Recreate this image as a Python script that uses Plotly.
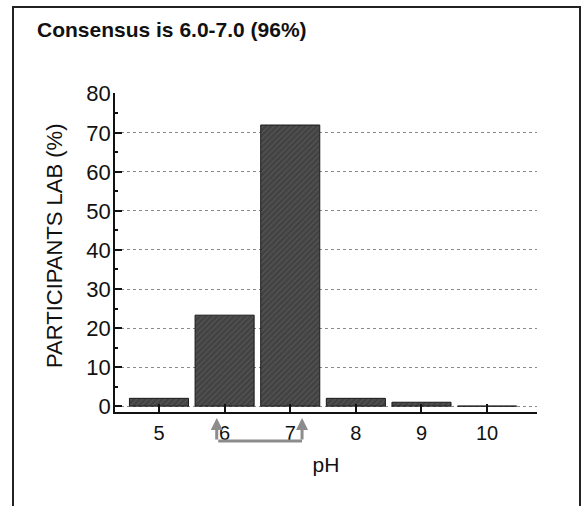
import plotly.graph_objects as go

# Data
ph_values = [5, 6, 7, 8, 9, 10]
participants_pct = [2.0, 23.3, 72.0, 2.0, 1.0, 0.0]
y_ticks = [0, 10, 20, 30, 40, 50, 60, 70, 80]
title_text = "Consensus is 6.0-7.0 (96%)"
y_title = "PARTICIPANTS LAB (%)"
x_title = "pH"
consensus_low, consensus_high = 6, 7

FONT = "Liberation Sans, Arial, sans-serif"

fig = go.Figure()
fig.add_trace(go.Bar(
    x=ph_values, y=participants_pct, width=0.9,
    marker=dict(color="#424242", line=dict(color="#1a1a1a", width=1),
                pattern=dict(shape="/", fgcolor="#6e6e6e", size=4, solidity=0.25)),
    showlegend=False,
))

W, H = 584, 506
L, R, T, B = 115, 47, 93, 94
pw, ph = W - L - R, H - T - B

fig.update_layout(
    width=W, height=H,
    margin=dict(l=L, r=R, t=T, b=B),
    paper_bgcolor="white", plot_bgcolor="white",
    font=dict(family=FONT, color="#111"),
    title=dict(text="<b>" + title_text + "</b>", x=37 / W, xanchor="left",
               y=1 - 30 / H, yanchor="middle", font=dict(size=21, color="#111")),
    bargap=0.1,
)

fig.update_xaxes(
    range=[4.33, 10.76], tickmode="array", tickvals=ph_values,
    ticktext=[str(v) for v in ph_values],
    ticks="inside", ticklen=8, tickwidth=1.5, tickcolor="#111",
    showline=True, linecolor="#111", linewidth=1.5,
    showgrid=False, zeroline=False,
    tickfont=dict(size=20, color="#111"), ticklabelstandoff=2,
    title=dict(text=x_title, font=dict(size=21, color="#111"), standoff=15),
)
fig.update_yaxes(
    range=[-1.5, 80.2], tickmode="array", tickvals=y_ticks,
    ticks="inside", ticklen=7, tickwidth=1.5, tickcolor="#111",
    minor=dict(dtick=5, ticks="inside", ticklen=3, tickcolor="#111", showgrid=False),
    showline=True, linecolor="#111", linewidth=1.5,
    showgrid=True, gridcolor="#8a8a8a", griddash="dot", gridwidth=1,
    zeroline=False,
    tickfont=dict(size=22, color="#111"), ticklabelstandoff=-2,
)

# Y-axis title placed as rotated text
fig.add_annotation(text=y_title, xref="paper", yref="paper",
                   x=(55 - L) / pw, y=(H - B - 246) / ph,
                   xanchor="center", yanchor="middle", textangle=-90,
                   showarrow=False, font=dict(size=22, color="#111"))

# Outer frame (bottom edge cut off like the reference)
fig.add_shape(type="rect", xref="paper", yref="paper",
              x0=(13 - L) / pw, x1=(580 - L) / pw,
              y0=-0.5, y1=(H - B - 7) / ph,
              line=dict(color="#222", width=2), fillcolor="rgba(0,0,0,0)")

# Consensus bracket under ticks 6 and 7
arrow_col = "#8c8c8c"
x_left = consensus_low - 0.12
x_right = consensus_high + 0.18
y_tip = -6 / ph
y_base = -29 / ph
for xv in (x_left, x_right):
    fig.add_annotation(x=xv, y=y_tip, xref="x", yref="paper", text="",
                       showarrow=True, ax=0, ay=23, axref="pixel", ayref="pixel",
                       arrowhead=2, arrowsize=0.8, arrowwidth=3, arrowcolor=arrow_col)
fig.add_annotation(x=x_right, y=y_base, xref="x", yref="paper", text="",
                   showarrow=True, ax=x_left, ay=0, axref="x", ayref="pixel",
                   arrowhead=0, arrowwidth=3, arrowcolor=arrow_col,
                   startstandoff=0, standoff=0)

fig.write_html("out.html", config={"displayModeBar": False},
               post_script="document.body.style.margin='0';")
